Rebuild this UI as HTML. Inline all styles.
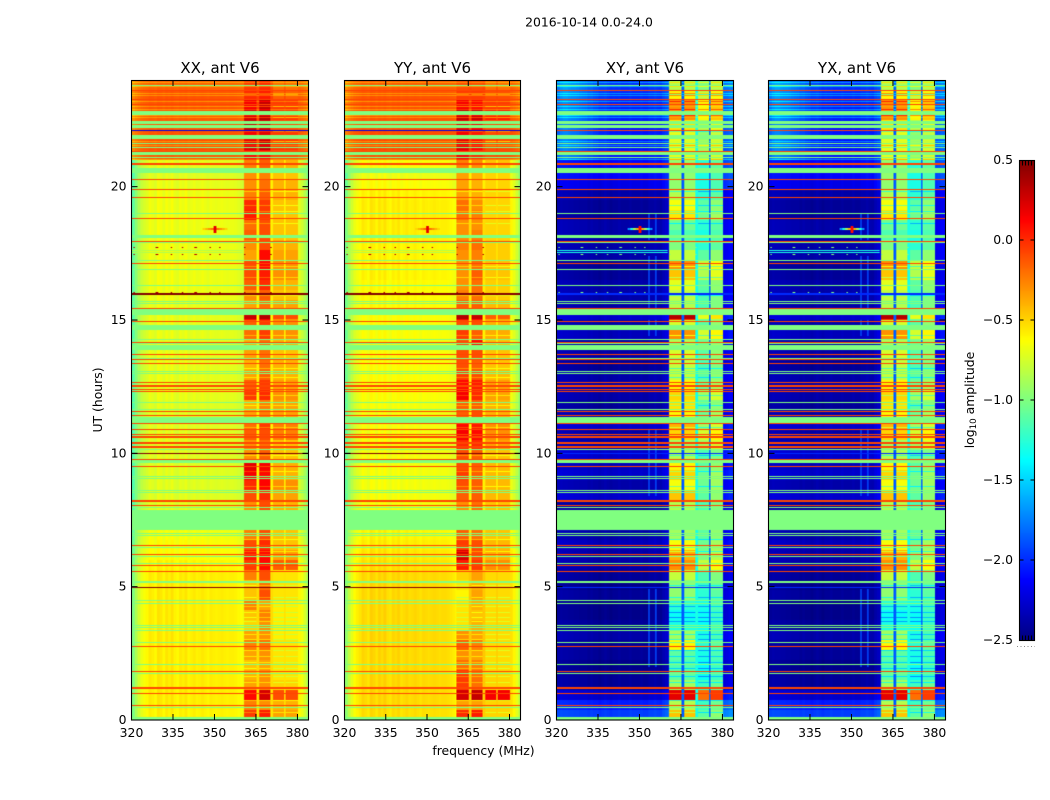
<!DOCTYPE html>
<html>
<head>
<meta charset="utf-8">
<title>2016-10-14 0.0-24.0</title>
<style>
html,body{margin:0;padding:0;background:#fff;}
#figure{position:relative;width:1050px;height:800px;overflow:hidden;background:#fff;font-family:"DejaVu Sans","Liberation Sans",sans-serif;}
canvas{position:absolute;display:block;}
svg{position:absolute;left:0;top:0;}
svg text{fill:#000;font-family:"DejaVu Sans","Liberation Sans",sans-serif;}
</style>
</head>
<body>
<div id="figure"></div>
<script>
// ---- axis labels ----
const panelTitles = ["XX, ant V6", "YY, ant V6", "XY, ant V6", "YX, ant V6"];
const freqTicks = [320, 335, 350, 365, 380];
const hourTicks = [0, 5, 10, 15, 20];
const colorTicks = [0.5, 0.0, -0.5, -1.0, -1.5, -2.0, -2.5];

// ---- amplitude levels, log10, one value per 22.5 minute step from 0 UT up ----
const xxBackground = [-0.6,-0.58,-0.58,-0.58,-0.58,-0.58,-0.58,-0.58,-0.58,-0.58,
 -0.58,-0.58,-0.58,-0.58,-0.58,-0.6,-0.64,-0.64,-0.66,-1,
 -1,-0.72,-0.72,-0.72,-0.72,-0.72,-0.72,-0.72,-0.72,-0.72,
 -0.72,-0.72,-0.7,-0.7,-0.7,-0.7,-0.7,-0.7,-0.7,-0.7,
 -0.7,-0.7,-0.68,-0.68,-0.68,-0.68,-0.68,-0.68,-0.68,-0.68,
 -0.68,-0.68,-0.68,-0.7,-0.72,-0.7,-0.14,-0.12,-0.12,-0.14,
 -0.14,-0.12,-0.12,-0.16];
const yyBackground = [-0.54,-0.52,-0.52,-0.52,-0.52,-0.52,-0.52,-0.52,-0.52,-0.52,
 -0.52,-0.52,-0.52,-0.52,-0.52,-0.54,-0.56,-0.58,-0.6,-1,
 -1,-0.66,-0.66,-0.66,-0.66,-0.66,-0.66,-0.66,-0.66,-0.66,
 -0.66,-0.66,-0.64,-0.64,-0.64,-0.64,-0.64,-0.64,-0.64,-0.64,
 -0.64,-0.62,-0.62,-0.62,-0.6,-0.6,-0.6,-0.6,-0.58,-0.58,
 -0.58,-0.58,-0.6,-0.64,-0.68,-0.64,-0.12,-0.1,-0.1,-0.12,
 -0.12,-0.12,-0.12,-0.14];
const crossBackground = [-1.95,-2.05,-2.28,-2.43,-2.43,-2.47,-2.43,-2.43,-2.38,-2.43,
 -2.47,-2.47,-2.43,-2.47,-2.43,-2.38,-2.38,-2.33,-2.38,-1,
 -1,-2.43,-2.28,-2.38,-2.28,-2.33,-2.28,-2.38,-2.38,-2.28,
 -2.38,-2.43,-2.38,-2.38,-2.38,-2.43,-2.38,-2.38,-2.33,-2.38,
 -2.28,-2.38,-2.38,-2.38,-2.43,-2.43,-2.38,-2.38,-2.38,-2.38,
 -2.43,-2.43,-2.38,-2.2,-2.12,-2.12,-2.08,-2.08,-2.08,-2.08,
 -2.05,-2.05,-2.02,-2.0];

const xxBandOne = [-0.05,-0.25,0.1,-0.35,-0.4,-0.45,-0.35,-0.25,-0.35,-0.5,
 -0.45,-0.25,-0.45,-0.45,-0.25,-0.05,0.05,-0.1,-0.25,-0.9,
 -0.9,-0.3,-0.1,0.0,0.15,0.2,-0.3,-0.3,-0.15,-0.2,
 -0.35,-0.4,-0.05,-0.15,-0.35,-0.4,-0.35,-0.4,-0.2,-0.15,
 0.3,-0.35,-0.3,-0.15,-0.1,-0.1,-0.35,-0.3,-0.15,-0.2,
 0.05,0.0,-0.25,-0.3,-0.3,-0.25,0.1,0.2,0.15,0.3,
 0.25,0.15,0.0,-0.05];
const xxBandTwo = [0.05,-0.3,0.25,-0.3,-0.3,-0.35,-0.3,-0.2,-0.3,-0.3,
 -0.25,-0.35,-0.1,-0.2,-0.1,0.1,0.1,0.0,-0.1,-0.9,
 -0.9,-0.1,0.0,0.12,0.1,0.15,-0.15,-0.2,-0.1,-0.05,
 -0.25,-0.25,0.0,-0.05,-0.15,-0.2,-0.2,-0.2,-0.05,-0.05,
 0.35,-0.2,-0.15,0.0,0.05,0.1,0.1,-0.1,-0.1,-0.1,
 -0.05,-0.05,-0.15,-0.2,-0.25,-0.15,0.1,0.3,0.2,0.25,
 0.35,0.3,0.05,0.0];
const xxBandThree = [-0.35,-0.4,-0.1,-0.5,-0.55,-0.55,-0.55,-0.55,-0.58,-0.58,
 -0.58,-0.58,-0.55,-0.55,-0.55,-0.15,-0.35,-0.45,-0.45,-0.9,
 -0.9,-0.4,-0.35,-0.3,-0.4,-0.4,-0.45,-0.45,-0.25,-0.25,
 -0.35,-0.35,-0.3,-0.35,-0.4,-0.4,-0.45,-0.4,-0.3,-0.3,
 -0.1,-0.35,-0.45,-0.4,-0.3,-0.3,-0.35,-0.4,-0.45,-0.45,
 -0.45,-0.45,-0.4,-0.4,-0.45,-0.4,-0.1,-0.05,-0.05,-0.1,
 -0.05,-0.05,-0.15,-0.2];

const yyBandOne = [0.0,-0.35,0.25,-0.05,-0.05,-0.2,-0.3,-0.15,-0.3,-0.55,
 -0.55,-0.55,-0.6,-0.55,-0.5,0.05,0.25,-0.05,-0.15,-0.9,
 -0.9,-0.3,-0.15,-0.1,-0.05,-0.1,-0.1,0.0,0.15,0.1,
 -0.15,-0.15,0.15,0.1,-0.05,-0.1,-0.1,-0.1,-0.05,-0.1,
 0.35,-0.15,-0.25,-0.3,-0.3,-0.3,-0.3,-0.25,-0.3,-0.3,
 -0.2,-0.2,-0.35,-0.35,-0.35,-0.25,0.15,0.2,0.15,0.2,
 0.3,0.15,-0.05,-0.1];
const yyBandTwo = [0.05,-0.35,0.3,-0.2,-0.2,-0.25,-0.35,-0.25,-0.35,-0.4,
 -0.45,-0.4,-0.35,-0.4,-0.35,-0.05,-0.1,-0.1,-0.2,-0.9,
 -0.9,-0.2,-0.15,-0.15,-0.15,-0.15,-0.15,0.0,0.1,0.05,
 -0.1,-0.15,0.0,0.05,-0.1,-0.15,-0.1,0.1,-0.15,-0.1,
 0.3,-0.15,-0.2,-0.2,-0.15,-0.2,-0.25,-0.2,-0.25,-0.3,
 -0.25,-0.3,-0.4,-0.4,-0.4,-0.3,0.0,0.1,0.05,0.15,
 0.3,0.1,-0.05,-0.1];
const yyBandThree = [-0.5,-0.5,0.15,-0.5,-0.5,-0.52,-0.52,-0.52,-0.52,-0.52,
 -0.52,-0.52,-0.52,-0.52,-0.52,-0.3,-0.4,-0.42,-0.45,-1,
 -1,-0.45,-0.42,-0.42,-0.42,-0.42,-0.45,-0.35,-0.3,-0.3,
 -0.4,-0.4,-0.35,-0.35,-0.42,-0.45,-0.45,-0.45,-0.38,-0.4,
 -0.15,-0.42,-0.48,-0.48,-0.45,-0.45,-0.48,-0.48,-0.5,-0.5,
 -0.5,-0.5,-0.5,-0.5,-0.5,-0.45,-0.1,-0.1,-0.1,-0.1,
 0.05,-0.05,-0.1,-0.2];

const crossBandOne = [-0.45,-0.85,0.2,-0.9,-1.1,-1.15,-1.1,-0.6,-0.9,-1.3,
 -1.35,-1.25,-0.95,-0.95,-0.8,-0.3,-0.4,-0.65,-0.9,-1,
 -1,-0.85,-0.45,-0.65,-0.5,-0.6,-0.85,-0.9,-0.5,-0.4,
 -0.6,-0.55,-0.5,-0.6,-0.8,-0.8,-0.75,-0.85,-0.3,-0.75,
 0.35,-0.85,-0.8,-0.7,-0.45,-0.3,-0.8,-1.0,-1.15,-1.05,
 -0.55,-0.65,-0.85,-0.95,-0.95,-0.95,-0.7,-0.7,-0.7,-0.55,
 -0.3,-0.3,-0.6,-0.85];
const crossBandThree = [-1.1,-1.2,-0.2,-1.2,-1.35,-1.35,-1.3,-1.25,-1.3,-1.35,
 -1.35,-1.3,-1.25,-1.2,-1.15,-0.8,-1.0,-1.05,-1.1,-1,
 -1,-1.15,-1.1,-1.05,-1.05,-1.1,-1.15,-0.9,-0.75,-0.9,
 -1.05,-1.1,-0.9,-1.05,-1.1,-1.15,-1.1,-1.05,-0.75,-1.1,
 -0.7,-1.15,-1.15,-1.1,-0.85,-0.8,-1.1,-1.25,-1.3,-1.25,
 -1.05,-1.1,-1.25,-1.3,-1.3,-1.25,-0.9,-0.9,-0.95,-0.85,
 -0.6,-0.6,-0.8,-1.0];

// ---- offsets per MHz channel, 320 MHz upward ----
const parallelRipple = [-0.42,-0.28,-0.18,-0.1,-0.06,-0.03,0.02,0.0,-0.03,0.04,
 0.02,-0.02,0.03,0.0,0.04,-0.01,-0.03,0.02,0.0,0.03,
 -0.02,0.0,0.02,-0.01,0.0,0.02,0.0,-0.02,0.01,0.0,
 -0.01,0.0,0.01,0.0,-0.01,0.0,0.0,-0.01,-0.03,-0.05,
 -0.08,-0.06,0.0,0.0,0.0,0.0,0.0,0.0,0.0,0.0,
 0.0,0.0,0.0,0.0,0.0,0.0,0.0,0.0,0.0,0.0,
 -0.02,-0.08,-0.16,-0.28];
const crossRipple = [0.04,0.06,0.05,0.05,0.04,0.04,0.03,0.03,0.02,0.02,
 0.02,0.0,0.02,0.0,0.0,-0.02,0.0,0.02,0.0,-0.02,
 0.0,0.0,0.02,0.0,0.0,0.0,0.02,0.0,0.0,0.0,
 0.02,0.0,0.0,0.03,0.03,0.05,0.03,0.02,0.08,0.12,
 0.16,0.0,0.0,0.0,0.0,0.0,0.0,0.0,0.0,0.0,
 0.0,0.0,0.0,0.0,0.0,0.0,0.0,0.0,0.0,0.0,
 0.2,0.22,0.25,0.25];
// extra cross-hand brightness at the low-frequency end after 21 UT
const crossTopBoost = [0.2,0.26,0.3,0.3,0.28,0.26,0.26,0.24,0.22,0.2,
 0.18,0.16,0.14,0.12,0.1,0.08,0.06,0.05,0.04,0.03,0.02,0.01];

// ---- receiver sub-bands, MHz ----
const bandOneRange = [360.5, 365.0];
const bandTwoRange = [365.8, 369.9];
const bandThreeRange = [370.8, 374.9];
const bandFourRange = [375.7, 379.8];

// ---- individual time samples, hours UT ----
const redHours = [23.6,23.28,23.09,21.3,20.25,19.91,19.61,18.79,17.94,17.13,15.44,14.94,14.15,13.71,13.53,13.38,12.66,12.54,12.5,12.4,12.3,11.58,11.41,11.1,10.88,10.71,9.78,9.51,8.06,6.55,6.21,5.8,5.58,4.98,2.76,1.83,1.0,0.55];
const thickRedHours = [20.82,10.59,10.36,10.21,8.19,1.19];
const greenHours = [23.81,22.46,21.6,21.45,21.11,20.27,18.98,17.89,17.22,16.9,16.28,15.69,15.6,14.28,14.12,13.54,13.06,13.0,11.9,11.66,10.13,9.12,9.05,8.61,8.53,7.97,7.0,6.9,6.48,6.12,5.88,4.47,4.38,3.55,3.48,3.36,2.91,2.09,1.75,0.48];
const greenSpanStarts = [22.72,22.38,22.2,21.8,21.19,20.52,18.1,15.19,14.66,13.91,11.14,9.64,7.13,5.15,0.0];
const greenSpanEnds = [22.8,22.44,22.31,21.9,21.3,20.68,18.16,15.38,14.81,14.03,11.33,9.75,7.85,5.21,0.1];
const brightHours = [23.89,23.74,23.51,23.4,23.18,22.99,22.88,22.65,22.58,22.24,21.68,21.56,21.08,21.0];
const darkHours = [16.01,15.95,10.01,4.98];
const blueHours = [22.09];
const interferenceHours = [17.6,17.52];
const bandStripeHours = [0.3,0.72,1.4,1.62,1.92,2.15,2.4,2.62,3.0,3.2,3.68,3.83,4.05,4.24,4.6,5.05,6.3,6.75,8.75,9.3,9.9,10.95,11.8,12.15,12.85,13.2,14.4,15.0,15.9,16.6,17.0,18.6,19.05,19.3,19.8,21.7,22.05,22.6,23.0,23.45];

// ---- narrow features ----
const speckleFreqs = [320.7,329,334.4,338.4,343,348.4,351.6,360.9,370.3];
const speckleHours = [17.72,17.45,16.03];
const streakFreq = 350;
const streakHour = 18.41;
const streakParallel = [0.3,-0.2,-0.3,-0.4,-0.5];
const streakCross = [0.2,-0.4,-0.9,-1.3,-1.7];
const crossLineFreqs = [353.2,355.7];
const crossLineStarts = [2.0,8.4,14.4,15.4,18.0];
const crossLineEnds = [4.9,10.9,15.0,17.4,19.0];

const panels = [
 {kind:"parallel", bg:xxBackground, one:xxBandOne, two:xxBandTwo, three:xxBandThree, left:131.5, width:177},
 {kind:"parallel", bg:yyBackground, one:yyBandOne, two:yyBandTwo, three:yyBandThree, left:344.5, width:176},
 {kind:"cross", bg:crossBackground, one:crossBandOne, two:crossBandOne, three:crossBandThree, left:556.5, width:177},
 {kind:"cross", bg:crossBackground, one:crossBandOne, two:crossBandOne, three:crossBandThree, left:768.5, width:177}
];

const ROWS = 640, COLS = 128;
const AX_TOP = 80, AX_BOTTOM = 720;
const V_MIN = -2.5, V_MAX = 0.5;

function hourToRow(h){ return Math.min(ROWS-1, Math.floor(h/24*ROWS)); }
function yOfHour(h){ return AX_BOTTOM - h/24*(AX_BOTTOM-AX_TOP); }
function xOfFreq(p,f){ return p.left + (f-320)/64*p.width; }
function yOfColor(v){ return 640 - (v-V_MIN)/(V_MAX-V_MIN)*480; }
function clamp(v){ return Math.max(0,Math.min(1,v)); }
function jet(v){
  const x = clamp((v-V_MIN)/(V_MAX-V_MIN));
  return [clamp(1.5-Math.abs(4*x-3))*255, clamp(1.5-Math.abs(4*x-2))*255, clamp(1.5-Math.abs(4*x-1))*255];
}
function inRange(f,r){ return f>=r[0] && f<r[1]; }

// row classification
const rowType = new Array(ROWS).fill("");
const rowStripe = new Array(ROWS).fill(false);
bandStripeHours.forEach(h=>{ rowStripe[hourToRow(h)]=true; });
brightHours.forEach(h=>{ rowType[hourToRow(h)]="bright"; });
interferenceHours.forEach(h=>{ rowType[hourToRow(h)]="interference"; });
greenHours.forEach(h=>{ rowType[hourToRow(h)]="green"; });
greenSpanStarts.forEach((s,i)=>{ for(let r=hourToRow(s);r<=hourToRow(greenSpanEnds[i]);r++){ rowType[r]="green"; } });
redHours.forEach(h=>{ rowType[hourToRow(h)]="red"; });
thickRedHours.forEach(h=>{ const r=hourToRow(h); rowType[r]="red"; rowType[Math.min(ROWS-1,r+1)]="red"; });
blueHours.forEach(h=>{ rowType[hourToRow(h)]="blue"; });
darkHours.forEach(h=>{ rowType[hourToRow(h)]="dark"; });

function cellValue(p,row,col){
  const t=(row+0.5)*24/ROWS, f=320+(col+0.5)*64/COLS;
  const parallel=p.kind==="parallel";
  const type=rowType[row];
  if(type==="green") return -1.0;
  if(type==="red") return -0.08;
  if(type==="blue") return parallel?-2.2:-0.08;
  if(type==="dark") return parallel?0.5:-2.0;
  const bin=Math.min(63,Math.floor(t/0.375));
  const ch=Math.floor(f-320);
  const top=bin>=56;
  let v;
  let inBand=true;
  if(inRange(f,bandOneRange)) v=p.one[bin];
  else if(inRange(f,bandTwoRange)) v=p.two[bin];
  else if(inRange(f,bandThreeRange)) v=p.three[bin];
  else if(inRange(f,bandFourRange)) v=p.three[bin]+(parallel?0:0.15);
  else {
    inBand=false;
    if(f>=bandOneRange[1]&&f<bandTwoRange[0]) v=parallel?Math.max(p.bg[bin]+0.06,-0.58):-1.85;
    else if(f>=bandTwoRange[1]&&f<bandThreeRange[0]) v=parallel?Math.max(p.bg[bin]+0.06,-0.58):-1.3;
    else if(f>=bandThreeRange[1]&&f<bandFourRange[0]) v=parallel?Math.max(p.bg[bin]+0.04,-0.6):-1.85;
    else if(parallel) v=p.bg[bin]+parallelRipple[ch]*(top?0.35:1);
    else v=p.bg[bin]+crossRipple[ch]+(top&&ch<crossTopBoost.length?crossTopBoost[ch]:0);
  }
  if(inBand&&rowStripe[row]) v-=parallel?0.2:0.35;
  if(type==="bright") v+=parallel?-0.18:0.3;
  if(type==="interference"&&f<360) v=parallel?-0.85:-1.3;
  if(!parallel&&f<360){
    crossLineFreqs.forEach(lf=>{
      if(Math.abs(f-lf)<=0.25){
        crossLineStarts.forEach((s,i)=>{ if(t>=s&&t<crossLineEnds[i]) v=-1.9; });
      }
    });
  }
  const streakRow=hourToRow(streakHour);
  if(row===streakRow||row===streakRow+1){
    const d=Math.round(Math.abs(f-streakFreq));
    if(d<streakParallel.length) v=parallel?streakParallel[d]:streakCross[d];
  }
  if(Math.abs(row-streakRow)<=3&&Math.abs(f-streakFreq)<=0.25) v=parallel?0.2:0.1;
  speckleHours.forEach(h=>{
    if(Math.abs(row-hourToRow(h))===0){
      speckleFreqs.forEach(sf=>{ if(Math.abs(f-sf)<=0.25) v=parallel?0.35:-1.0; });
    }
  });
  return v;
}

const figure=document.getElementById("figure");

panels.forEach((p,idx)=>{
  const c=document.createElement("canvas");
  c.width=COLS; c.height=ROWS;
  c.style.left=p.left+"px"; c.style.top=AX_TOP+"px";
  c.style.width=p.width+"px"; c.style.height=(AX_BOTTOM-AX_TOP)+"px";
  
  
  const ctx=c.getContext("2d");
  const img=ctx.createImageData(COLS,ROWS);
  for(let r=0;r<ROWS;r++){
    for(let q=0;q<COLS;q++){
      const rgb=jet(cellValue(p,r,q));
      const i=((ROWS-1-r)*COLS+q)*4;
      img.data[i]=rgb[0]; img.data[i+1]=rgb[1]; img.data[i+2]=rgb[2]; img.data[i+3]=255;
    }
  }
  ctx.putImageData(img,0,0);
  figure.appendChild(c);
});

// colorbar image
const cb=document.createElement("canvas");
cb.width=1; cb.height=256;
cb.style.left="1019.5px"; cb.style.top="160px"; cb.style.width="15px"; cb.style.height="480px";


const cbx=cb.getContext("2d");
for(let i=0;i<256;i++){
  const rgb=jet(V_MAX-(i+0.5)/256*(V_MAX-V_MIN));
  cbx.fillStyle="rgb("+Math.round(rgb[0])+","+Math.round(rgb[1])+","+Math.round(rgb[2])+")";
  cbx.fillRect(0,i,1,1);
}
figure.appendChild(cb);

// overlay
const NS="http://www.w3.org/2000/svg";
const svg=document.createElementNS(NS,"svg");
svg.setAttribute("width","1050"); svg.setAttribute("height","800");


figure.appendChild(svg);

function line(x1,y1,x2,y2,w){
  const l=document.createElementNS(NS,"line");
  l.setAttribute("x1",x1); l.setAttribute("y1",y1); l.setAttribute("x2",x2); l.setAttribute("y2",y2);
  l.setAttribute("stroke","#000"); l.setAttribute("stroke-width",w||1);
  svg.appendChild(l);
  return l;
}
function text(str,x,y,size,anchor,rot){
  const t=document.createElementNS(NS,"text");
  t.textContent=str;
  t.setAttribute("x",x); t.setAttribute("y",y);
  t.setAttribute("font-size",size); t.setAttribute("text-anchor",anchor||"middle");
  if(rot) t.setAttribute("transform","rotate("+rot+" "+x+" "+y+")");
  svg.appendChild(t);
  return t;
}

const TICK=12.4, TITLE=15;

panels.forEach((p,idx)=>{
  const key=panelTitles[idx].slice(0,2).toLowerCase();
  const frame=document.createElementNS(NS,"rect");
  frame.setAttribute("x",p.left); frame.setAttribute("y",AX_TOP+0.5);
  frame.setAttribute("width",p.width); frame.setAttribute("height",AX_BOTTOM-AX_TOP-0.5);
  frame.setAttribute("fill","none"); frame.setAttribute("stroke","#000"); frame.setAttribute("stroke-width","1.1");
  
  
  svg.appendChild(frame);

  const title=text(panelTitles[idx],p.left+p.width/2,73,TITLE);
  
  

  freqTicks.forEach(f=>{
    const x=xOfFreq(p,f);
    const top=line(x,AX_TOP,x,AX_TOP+6);
    
    
    const bottom=line(x,AX_BOTTOM,x,AX_BOTTOM-6);
    
    
    const label=text(String(f),x,737,TICK);
    
    
  });
  hourTicks.forEach(h=>{
    const y=yOfHour(h);
    const a=line(p.left,y,p.left+6,y);
    
    
    const b=line(p.left+p.width,y,p.left+p.width-6,y);
    
    
    const label=text(String(h),p.left-5,y+4,TICK,"end");
    
    
  });
});

const sup=text("2016-10-14 0.0-24.0",589,26.5,12.4);


const xl=text("frequency (MHz)",483.5,755,12.4);


const yl=text("UT (hours)",102,400,12.4,"middle",-90);



// colorbar frame, ticks, labels
const cbFrame=document.createElementNS(NS,"rect");
cbFrame.setAttribute("x",1019.5); cbFrame.setAttribute("y",160.5);
cbFrame.setAttribute("width",15); cbFrame.setAttribute("height",480);
cbFrame.setAttribute("fill","none"); cbFrame.setAttribute("stroke","#000"); cbFrame.setAttribute("stroke-width","1.1");


svg.appendChild(cbFrame);

colorTicks.forEach(v=>{
  const y=yOfColor(v);
  const label=text((v<0?"\u2212":"")+Math.abs(v).toFixed(1),1013,y+3.8,TICK,"end");
  
  
  if(v>-2.5&&v<0.5){
    const a=line(1019.5,y,1023.5,y);
    
    
    const b=line(1034.5,y,1030.5,y);
    
    
  }
});
for(let i=1;i<=4;i++){
  const x=1019.5+i*3;
  const a=line(x,160.5,x,165.5);
  
  
  const b=line(x,640.5,x,635.5);
  
  
}
const dots=line(1017,646.5,1035,646.5,1);
dots.setAttribute("stroke","#888");
dots.setAttribute("stroke-dasharray","1 2.5");



const cl=document.createElementNS(NS,"text");
cl.setAttribute("x",974); cl.setAttribute("y",400);
cl.setAttribute("font-size","12.4"); cl.setAttribute("text-anchor","middle");
cl.setAttribute("transform","rotate(-90 974 400)");


const clA=document.createElementNS(NS,"tspan");
clA.textContent="log";
cl.appendChild(clA);
const clB=document.createElementNS(NS,"tspan");
clB.textContent="10";
clB.setAttribute("font-size","8.7");
clB.setAttribute("dy","2");
cl.appendChild(clB);
const clC=document.createElementNS(NS,"tspan");
clC.textContent=" amplitude";
clC.setAttribute("dy","-2");
cl.appendChild(clC);
svg.appendChild(cl);
</script>
</body>
</html>
